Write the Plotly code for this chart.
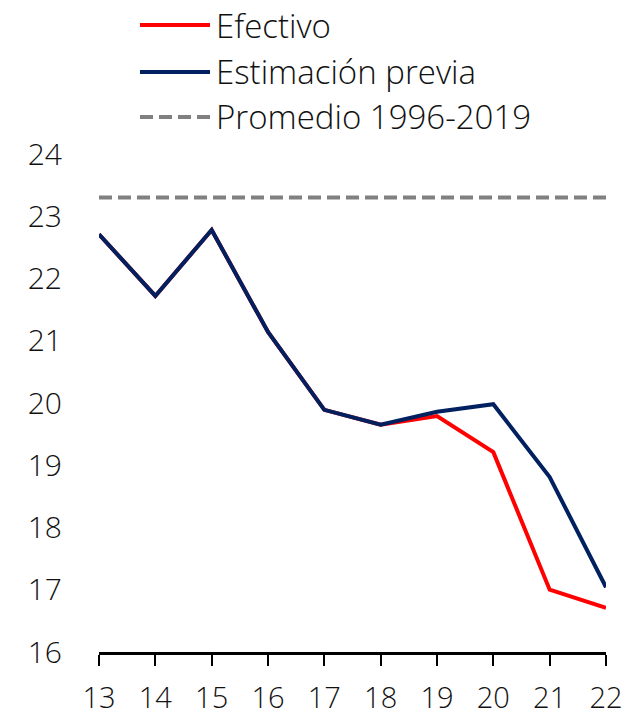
import plotly.graph_objects as go

years = [13, 14, 15, 16, 17, 18, 19, 20, 21, 22]
year_labels = ["13", "14", "15", "16", "17", "18", "19", "20", "21", "22"]
efectivo = [22.71, 21.72, 22.78, 21.14, 19.89, 19.65, 19.79, 19.21, 17.00, 16.71]
estimacion = [22.71, 21.72, 22.78, 21.14, 19.89, 19.65, 19.86, 19.98, 18.81, 17.04]
promedio = [23.3, 23.3, 23.3, 23.3, 23.3, 23.3, 23.3, 23.3, 23.3, 23.3]
y_ticks = [16, 17, 18, 19, 20, 21, 22, 23, 24]

RED = "#FF0000"
NAVY = "#002060"
GRAY = "#808080"
FONT = "Open Sans"
FW = 300
TXT = "#111111"

W, H = 626, 717
L, R, T, B = 99, 20, 154, 65
pw, ph = W - L - R, H - T - B

fig = go.Figure()
fig.add_trace(go.Scatter(x=years, y=promedio, mode="lines", name="Promedio 1996-2019",
                         line=dict(color=GRAY, width=4, dash="13px,6px"), showlegend=False))
fig.add_trace(go.Scatter(x=years, y=efectivo, mode="lines", name="Efectivo",
                         line=dict(color=RED, width=4), showlegend=False))
fig.add_trace(go.Scatter(x=years, y=estimacion, mode="lines", name="Estimación previa",
                         line=dict(color=NAVY, width=4), showlegend=False))

# custom legend, positioned in the top margin
def px_x(x):
    return (x - L) / pw

def px_y(y):
    return (H - B - y) / ph

legend_items = [("Efectivo", RED, "solid", 25), ("Estimación previa", NAVY, "solid", 72),
                ("Promedio 1996-2019", GRAY, "13px,6px", 117)]
for text, color, dash, yy in legend_items:
    fig.add_shape(type="line", xref="paper", yref="paper",
                  x0=px_x(140), x1=px_x(210), y0=px_y(yy), y1=px_y(yy),
                  line=dict(color=color, width=4, dash=dash))
    fig.add_annotation(xref="paper", yref="paper", x=px_x(214), y=px_y(yy),
                       text=text, showarrow=False, xanchor="left", yanchor="middle",
                       font=dict(family=FONT, size=33, color=TXT, weight=FW))

fig.update_layout(
    width=W, height=H,
    margin=dict(l=L, r=R, t=T, b=B),
    paper_bgcolor="white", plot_bgcolor="white",
    font=dict(family=FONT, size=30, color=TXT, weight=FW),
    showlegend=False,
)
fig.update_xaxes(range=[13, 22], tickvals=years, ticktext=year_labels, automargin=False,
                 showgrid=False, zeroline=False, showline=True, linecolor="black", linewidth=3,
                 ticks="outside", ticklen=11, tickwidth=2, tickcolor="black",
                 tickfont=dict(size=29), ticklabelstandoff=7)
fig.update_yaxes(range=[16, 24], tickvals=y_ticks, showgrid=False, zeroline=False, automargin=False,
                 showline=False, ticks="", ticklabelstandoff=36)

fig.write_html("out.html", config={"displayModeBar": False},
               post_script="document.body.style.margin='0';document.body.style.overflow='hidden';")
